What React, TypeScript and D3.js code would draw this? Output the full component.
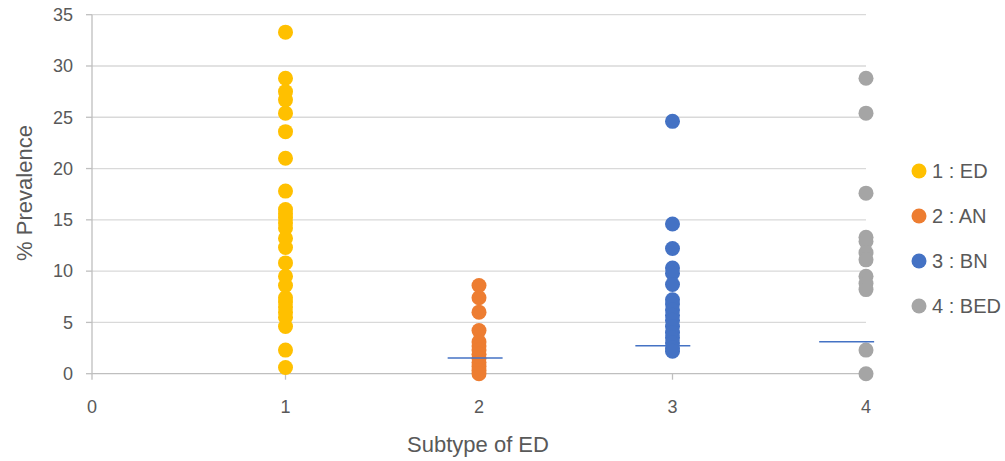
import React from 'react';
import * as d3 from 'd3';

// subtype values (% prevalence)
const subtypes = [1, 2, 3, 4];
const seriesNames = ['1 : ED', '2 : AN', '3 : BN', '4 : BED'];
const seriesColors = ['#FFC000', '#ED7D31', '#4472C4', '#A5A5A5'];

const edValues = [33.3, 28.8, 27.5, 26.7, 25.4, 23.6, 21.0, 17.8, 16.0, 15.6, 15.2, 14.7, 14.2, 13.2, 12.3, 10.8, 9.5, 8.6, 7.4, 7.0, 6.5, 6.0, 5.5, 4.6, 2.3, 0.6];
const anValues = [8.6, 7.4, 6.0, 4.2, 3.1, 2.7, 2.3, 1.9, 1.5, 1.1, 0.7, 0.3, 0.0];
const bnValues = [24.6, 14.6, 12.2, 10.3, 9.8, 8.7, 7.2, 6.8, 6.2, 5.7, 5.2, 4.6, 4.0, 3.5, 3.0, 2.5, 2.2];
const bedValues = [28.8, 25.4, 17.6, 13.3, 12.9, 11.8, 11.1, 9.5, 8.8, 8.2, 2.3, 0.0];

// short blue reference lines
const refX = [1.98, 2.95, 3.9];
const refY = [1.53, 2.73, 3.12];
const refHalfWidth = 0.142;

const xTicks = [0, 1, 2, 3, 4];
const yTicks = [0, 5, 10, 15, 20, 25, 30, 35];

const App = () => {
  const width = 1005;
  const height = 461;
  const font = '"Liberation Sans", Arial, sans-serif';
  const textColor = '#595959';

  const x = d3.scaleLinear().domain([0, 4]).range([92, 866]);
  const y = d3.scaleLinear().domain([0, 35]).range([373.7, 14.7]);

  const allSeries = [edValues, anValues, bnValues, bedValues];

  return (
    <svg width={width} height={height} style={{ position: 'absolute', left: 0, top: 0 }}>
      <rect width={width} height={height} fill="#fff" />
      {yTicks.map(t => (
        <g key={'y' + t}>
          <line x1={x(0)} x2={x(4)} y1={y(t)} y2={y(t)} stroke={t === 0 ? '#BFBFBF' : '#D9D9D9'} strokeWidth={1.3} />
          <line x1={x(0) - 6} x2={x(0)} y1={y(t)} y2={y(t)} stroke="#BFBFBF" strokeWidth={1.3} />
          <text x={73} y={y(t)} dy="0.35em" textAnchor="end" fontFamily={font} fontSize={18} fill={textColor}>{t}</text>
        </g>
      ))}
      <line x1={x(0)} x2={x(0)} y1={y(35)} y2={y(0)} stroke="#BFBFBF" strokeWidth={1.3} />
      {xTicks.map(t => (
        <g key={'x' + t}>
          <line x1={x(t)} x2={x(t)} y1={y(0)} y2={y(0) + 6} stroke="#BFBFBF" strokeWidth={1.3} />
          <text x={x(t)} y={407} dy="0.35em" textAnchor="middle" fontFamily={font} fontSize={18} fill={textColor}>{t}</text>
        </g>
      ))}
      {allSeries.map((vals, i) => (
        <g key={'s' + i} fill={seriesColors[i]}>
          {vals.map((v, j) => (
            <circle key={j} cx={x(subtypes[i])} cy={y(v)} r={7.5} />
          ))}
        </g>
      ))}
      {refX.map((cx, i) => (
        <line key={'r' + i} x1={x(cx - refHalfWidth)} x2={x(cx + refHalfWidth)} y1={y(refY[i])} y2={y(refY[i])} stroke="#4472C4" strokeWidth={1.5} />
      ))}
      <text x={478} y={444} dy="0.35em" textAnchor="middle" fontFamily={font} fontSize={22} fill={textColor}>Subtype of ED</text>
      <text transform="translate(24,193) rotate(-90)" dy="0.35em" textAnchor="middle" fontFamily={font} fontSize={22} fill={textColor}>% Prevalence</text>
      {seriesNames.map((name, i) => {
        const ly = 171 + i * 45;
        return (
          <g key={'l' + i}>
            <circle cx={919} cy={ly} r={7.5} fill={seriesColors[i]} />
            <text x={932} y={ly} dy="0.35em" fontFamily={font} fontSize={20} fill={textColor}>{name}</text>
          </g>
        );
      })}
    </svg>
  );
};

export default App;
